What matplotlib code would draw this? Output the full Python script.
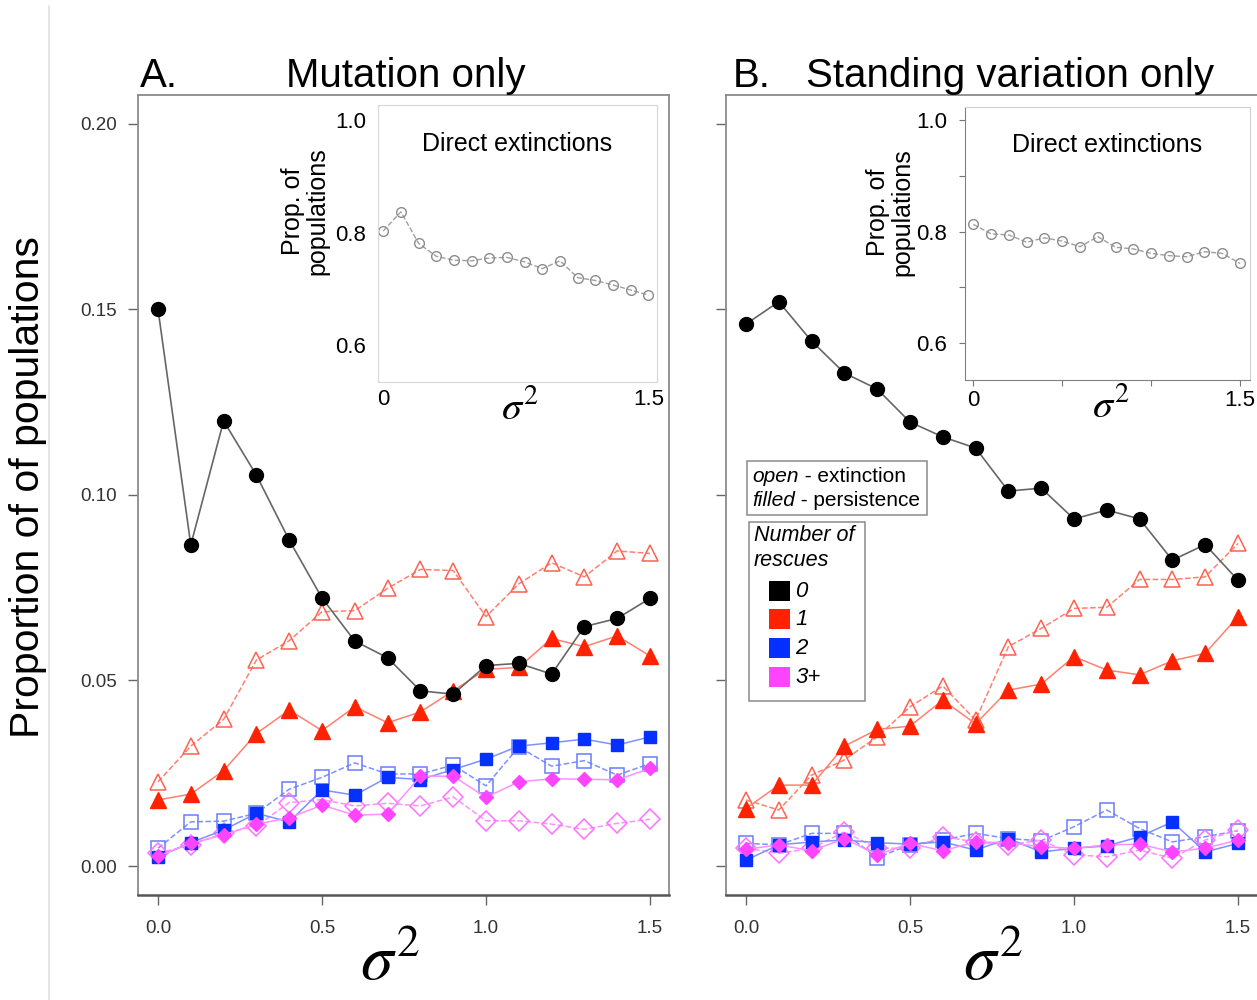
import matplotlib.pyplot as plt
from matplotlib.patches import Rectangle
from matplotlib.lines import Line2D

plt.rcParams['font.family'] = ['Liberation Sans', 'DejaVu Sans']
plt.rcParams['mathtext.fontset'] = 'stix'

# x values (sigma^2)
sigma2 = [0.0, 0.1, 0.2, 0.3, 0.4, 0.5, 0.6, 0.7, 0.8, 0.9, 1.0, 1.1, 1.2, 1.3, 1.4, 1.5]

# A. Mutation only
mut_persist_0 = [0.150, 0.0865, 0.1199, 0.1053, 0.0878, 0.0722, 0.0606, 0.0561,
                 0.0472, 0.0463, 0.0540, 0.0546, 0.0517, 0.0645, 0.0667, 0.0721]
mut_extinct_1 = [0.0227, 0.0323, 0.0395, 0.0555, 0.0607, 0.0685, 0.0688, 0.0748,
                 0.0799, 0.0796, 0.0672, 0.0760, 0.0817, 0.0779, 0.0849, 0.0842]
mut_persist_1 = [0.0178, 0.0194, 0.0257, 0.0357, 0.0420, 0.0365, 0.0429, 0.0386,
                 0.0415, 0.0472, 0.0530, 0.0535, 0.0613, 0.0591, 0.0620, 0.0566]
mut_extinct_2 = [0.0048, 0.0119, 0.0121, 0.0142, 0.0207, 0.0239, 0.0278, 0.0248,
                 0.0248, 0.0272, 0.0216, 0.0321, 0.0269, 0.0284, 0.0245, 0.0276]
mut_persist_2 = [0.0025, 0.0063, 0.0097, 0.0142, 0.0119, 0.0205, 0.0191, 0.0239,
                 0.0233, 0.0260, 0.0288, 0.0323, 0.0332, 0.0342, 0.0326, 0.0348]
mut_extinct_3 = [0.0034, 0.0057, 0.0088, 0.0108, 0.0171, 0.0179, 0.0162, 0.0169,
                 0.0162, 0.0186, 0.0122, 0.0122, 0.0113, 0.0099, 0.0115, 0.0126]
mut_persist_3 = [0.0027, 0.0061, 0.0084, 0.0113, 0.0130, 0.0164, 0.0137, 0.0140,
                 0.0242, 0.0242, 0.0185, 0.0227, 0.0235, 0.0234, 0.0232, 0.0263]
mut_direct_ext = [0.803, 0.837, 0.781, 0.758, 0.751, 0.750, 0.755, 0.756,
                  0.748, 0.736, 0.750, 0.720, 0.715, 0.707, 0.698, 0.689]

# B. Standing variation only
sv_persist_0 = [0.146, 0.152, 0.1414, 0.1328, 0.1285, 0.1196, 0.1156, 0.1126,
                0.1010, 0.1018, 0.0935, 0.0959, 0.0935, 0.0824, 0.0866, 0.0770]
sv_extinct_1 = [0.0178, 0.0151, 0.0245, 0.0286, 0.0348, 0.0429, 0.0485, 0.0393,
                0.0591, 0.0640, 0.0694, 0.0697, 0.0772, 0.0772, 0.0779, 0.0869]
sv_persist_1 = [0.0155, 0.0218, 0.0218, 0.0323, 0.0368, 0.0377, 0.0447, 0.0383,
                0.0474, 0.0490, 0.0564, 0.0528, 0.0515, 0.0553, 0.0573, 0.0672]
sv_extinct_2 = [0.0061, 0.0057, 0.0088, 0.0088, 0.0023, 0.0057, 0.0070, 0.0088,
                0.0074, 0.0068, 0.0106, 0.0151, 0.0101, 0.0065, 0.0079, 0.0095]
sv_persist_2 = [0.0016, 0.0057, 0.0065, 0.0070, 0.0063, 0.0059, 0.0065, 0.0043,
                0.0074, 0.0038, 0.0048, 0.0054, 0.0079, 0.0119, 0.0038, 0.0061]
sv_extinct_3 = [0.0048, 0.0034, 0.0048, 0.0092, 0.0048, 0.0048, 0.0079, 0.0065,
                0.0057, 0.0070, 0.0030, 0.0025, 0.0043, 0.0021, 0.0070, 0.0097]
sv_persist_3 = [0.0045, 0.0057, 0.0041, 0.0074, 0.0030, 0.0061, 0.0041, 0.0065,
                0.0063, 0.0052, 0.0048, 0.0057, 0.0059, 0.0038, 0.0048, 0.0070]
sv_direct_ext = [0.813, 0.796, 0.794, 0.781, 0.789, 0.783, 0.773, 0.791,
                 0.772, 0.769, 0.761, 0.757, 0.755, 0.764, 0.761, 0.743]

x_ticks = [0.0, 0.5, 1.0, 1.5]
x_ticklabels = ['0.0', '0.5', '1.0', '1.5']
y_ticks = [0.0, 0.05, 0.10, 0.15, 0.20]
y_ticklabels = ['0.00', '0.05', '0.10', '0.15', '0.20']
legend_labels = ['0', '1', '2', '3+']

RED = '#ff2200'
BLUE = '#0530ff'
MAG = '#ff44ff'
legend_colors = ['black', RED, BLUE, MAG]

W, H = 1257, 1000
fig = plt.figure(figsize=(12.57, 10), dpi=100)


def fx(px):
    return px / W


def fy(py):
    return 1 - py / H


def draw_panel(ax, p0, e1, p1, e2, p2, e3, p3, show_ylabels):
    # open = extinction (dashed), filled = persistence (solid)
    ax.plot(sigma2, e1, ls='--', lw=1.1, color='#ff8070', marker='^', ms=11,
            mfc='none', mec='#ff6050', mew=1.1, zorder=3)
    ax.plot(sigma2, e2, ls='--', lw=1.1, color='#7f90ff', marker='s', ms=10,
            mfc='none', mec='#6a7cff', mew=1.1, zorder=3)
    ax.plot(sigma2, e3, ls='--', lw=1.1, color='#ff90ff', marker='D', ms=10,
            mfc='none', mec='#ff70ff', mew=1.1, zorder=3)
    ax.plot(sigma2, p1, ls='-', lw=1.1, color='#ff8070', marker='^', ms=11,
            mfc=RED, mec=RED, zorder=4)
    ax.plot(sigma2, p2, ls='-', lw=1.1, color='#7f90ff', marker='s', ms=9,
            mfc=BLUE, mec=BLUE, zorder=4)
    ax.plot(sigma2, p3, ls='-', lw=1.1, color='#ff90ff', marker='D', ms=7.5,
            mfc=MAG, mec=MAG, zorder=4)
    ax.plot(sigma2, p0, ls='-', lw=1.2, color='#666666', marker='o', ms=10,
            mfc='black', mec='black', zorder=5)
    ax.set_xlim(-0.061, 1.558)
    ax.set_ylim(-0.0078, 0.2077)
    ax.set_xticks(x_ticks)
    ax.set_xticklabels(x_ticklabels)
    ax.set_yticks(y_ticks)
    if show_ylabels:
        ax.set_yticklabels(y_ticklabels)
    else:
        ax.set_yticklabels([])
    for s in ['left', 'top', 'right']:
        ax.spines[s].set_color('#8a8a8a')
        ax.spines[s].set_linewidth(1.3)
    ax.spines['bottom'].set_color('#555555')
    ax.spines['bottom'].set_linewidth(1.8)
    ax.tick_params(axis='both', length=7, width=1.0, color='#666666',
                   labelsize=13.5, labelcolor='#333333')
    ax.tick_params(axis='y', pad=8)
    ax.tick_params(axis='x', pad=11)


def draw_inset(ax, vals, ticks_visible):
    ax.plot(sigma2, vals, ls='--', lw=1.0, color='#a0a0a0', marker='o', ms=7,
            mfc='none', mec='#8c8c8c', mew=1.0)
    ax.set_facecolor('white')
    ax.text(0.5, 0.86, 'Direct extinctions', transform=ax.transAxes,
            ha='center', va='center', fontsize=18)
    ax.text(-0.262, 0.615, 'Prop. of\npopulations', transform=ax.transAxes,
            ha='center', va='center', rotation=90, fontsize=18, linespacing=1.0)
    ax.text(0.51, -0.095, r'$\sigma^2$', transform=ax.transAxes,
            ha='center', va='center', fontsize=29)
    if ticks_visible:
        ax.set_yticks([0.6, 0.7, 0.8, 0.9, 1.0])
        ax.set_yticklabels(['0.6', '', '0.8', '', '1.0'])
        ax.set_xticks([0.0, 0.5, 1.0, 1.5])
        ax.set_xticklabels(['0', '', '', '1.5'])
        ax.tick_params(length=4, color='#777777', labelsize=16, pad=9)
        ax.tick_params(axis='x', pad=3)
        for s in ['left', 'bottom']:
            ax.spines[s].set_color('#808080')
        for s in ['top', 'right']:
            ax.spines[s].set_color('#d0d0d0')
    else:
        ax.set_yticks([0.6, 0.8, 1.0])
        ax.set_yticklabels(['0.6', '0.8', '1.0'])
        ax.set_xticks([0.0, 1.5])
        ax.set_xticklabels(['0', '1.5'])
        ax.tick_params(length=0, labelsize=16, pad=9)
        ax.tick_params(axis='x', pad=5)
        for s in ax.spines.values():
            s.set_color('#d8d8d8')


# main panels
axA = fig.add_axes([fx(138), 0.105, 531 / W, 0.8])
draw_panel(axA, mut_persist_0, mut_extinct_1, mut_persist_1, mut_extinct_2,
           mut_persist_2, mut_extinct_3, mut_persist_3, True)
axB = fig.add_axes([fx(726), 0.105, 531 / W, 0.8])
draw_panel(axB, sv_persist_0, sv_extinct_1, sv_persist_1, sv_extinct_2,
           sv_persist_2, sv_extinct_3, sv_persist_3, False)
axB.spines['right'].set_visible(False)

for ax, xc in [(axA, 0.475), (axB, 0.503)]:
    ax.text(xc, -0.085, r'$\sigma^2$', transform=ax.transAxes,
            ha='center', va='center', fontsize=47)

# insets
insA = fig.add_axes([fx(378.3), fy(381.7), 278.4 / W, 276.7 / H])
insA.set_xlim(-0.028, 1.547)
insA.set_ylim(0.535, 1.027)
draw_inset(insA, mut_direct_ext, False)

insB = fig.add_axes([fx(965), fy(380), 285 / W, 273.3 / H])
insB.set_xlim(-0.047, 1.556)
insB.set_ylim(0.534, 1.024)
draw_inset(insB, sv_direct_ext, True)

# titles and shared y label
fig.text(fx(140), fy(87), 'A.', fontsize=29, va='baseline', ha='left')
fig.text(fx(406), fy(87), 'Mutation only', fontsize=29, va='baseline', ha='center')
fig.text(fx(733), fy(87), 'B.', fontsize=29, va='baseline', ha='left')
fig.text(fx(1010), fy(87), 'Standing variation only', fontsize=29,
         va='baseline', ha='center')
fig.text(fx(28), fy(487), 'Proportion of of populations', fontsize=29.5,
         rotation=90, ha='center', va='center')

# thin page-edge line
fig.add_artist(Line2D([fx(49), fx(49)], [0, fy(6)], color='#e2e2e2', lw=1.2))

# legend boxes
renderer = fig.canvas.get_renderer()


def mixed_text(x, y, parts, size):
    for s, style in parts:
        t = fig.text(x, y, s, fontsize=size, style=style, ha='left',
                     va='center', zorder=8)
        x += t.get_window_extent(renderer=renderer).width / W


fig.add_artist(Rectangle((fx(747), fy(515)), 180 / W, 54.3 / H,
                         transform=fig.transFigure, facecolor='white',
                         edgecolor='#8a8a8a', lw=1.1, zorder=6))
mixed_text(fx(752.5), fy(477), [('open', 'italic'), (' - extinction', 'normal')], 15)
mixed_text(fx(752.5), fy(500), [('filled', 'italic'), (' - persistence', 'normal')], 15)

fig.add_artist(Rectangle((fx(749), fy(700.7)), 116 / W, 179 / H,
                         transform=fig.transFigure, facecolor='white',
                         edgecolor='#8a8a8a', lw=1.1, zorder=6))
fig.text(fx(754), fy(548), 'Number of\nrescues', fontsize=15.5, style='italic',
         ha='left', va='center', linespacing=1.2, zorder=8)
for i, (lab, col) in enumerate(zip(legend_labels, legend_colors)):
    top = 580.7 + i * 28.7
    fig.add_artist(Rectangle((fx(769), fy(top + 20)), 21 / W, 20 / H,
                             transform=fig.transFigure, facecolor=col,
                             edgecolor='none', zorder=7))
    fig.text(fx(795), fy(top + 10.5), lab, fontsize=16, style='italic',
             ha='left', va='center', zorder=8)

fig.savefig('out.png', dpi=100)
